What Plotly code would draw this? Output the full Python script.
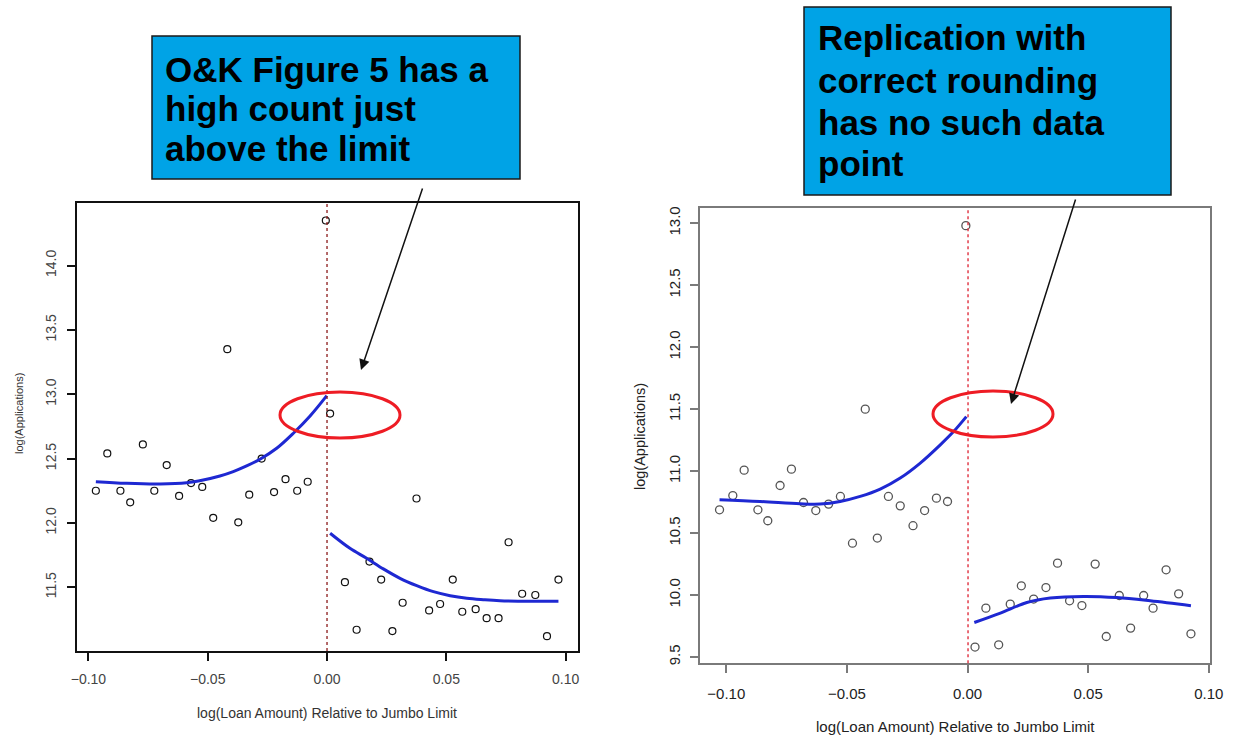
import plotly.graph_objects as go

W, H = 1235, 738

# ---------------- data ----------------
left_x = [-0.0969, -0.0921, -0.0866, -0.0825, -0.0772, -0.0724, -0.0672, -0.0620, -0.0570, -0.0523,
          -0.0477, -0.0418, -0.0372, -0.0326, -0.0274, -0.0222, -0.0174, -0.0125, -0.0081, -0.0005,
          0.0013, 0.0075, 0.0124, 0.0178, 0.0227, 0.0274, 0.0317, 0.0375, 0.0428, 0.0474,
          0.0527, 0.0567, 0.0623, 0.0669, 0.0719, 0.0761, 0.0818, 0.0873, 0.0922, 0.0970]
left_y = [12.25, 12.54, 12.25, 12.16, 12.61, 12.25, 12.45, 12.21, 12.31, 12.28,
          12.04, 13.35, 12.005, 12.22, 12.50, 12.24, 12.34, 12.25, 12.32, 14.35,
          12.85, 11.54, 11.17, 11.70, 11.56, 11.16, 11.38, 12.19, 11.32, 11.37,
          11.56, 11.31, 11.33, 11.26, 11.26, 11.85, 11.45, 11.44, 11.12, 11.56]

left_fit_below_x = [-0.0969, -0.0840, -0.0700, -0.0588, -0.0519, -0.0449, -0.0393, -0.0337,
                    -0.0281, -0.0211, -0.0141, -0.0071, -0.0001]
left_fit_below_y = [12.321, 12.308, 12.303, 12.313, 12.334, 12.365, 12.399, 12.443,
                    12.495, 12.580, 12.697, 12.831, 12.989]
left_fit_above_x = [0.0013, 0.0096, 0.0166, 0.0236, 0.0306, 0.0376, 0.0446, 0.0516,
                    0.0586, 0.0655, 0.0725, 0.0865, 0.0970]
left_fit_above_y = [11.920, 11.803, 11.726, 11.643, 11.570, 11.513, 11.466, 11.435,
                    11.415, 11.404, 11.396, 11.392, 11.392]

right_x = [-0.1028, -0.0973, -0.0926, -0.0869, -0.0828, -0.0777, -0.0730, -0.0680, -0.0629, -0.0576,
           -0.0527, -0.0477, -0.0424, -0.0374, -0.0328, -0.0279, -0.0226, -0.0178, -0.0129, -0.0083,
           -0.0007, 0.0031, 0.0076, 0.0129, 0.0177, 0.0223, 0.0274, 0.0325, 0.0373, 0.0423,
           0.0474, 0.0529, 0.0575, 0.0629, 0.0676, 0.0730, 0.0769, 0.0823, 0.0875, 0.0926]
right_y = [10.688, 10.803, 11.008, 10.688, 10.60, 10.884, 11.016, 10.747, 10.682, 10.734,
           10.796, 10.419, 11.50, 10.46, 10.796, 10.72, 10.56, 10.682, 10.782, 10.755,
           12.98, 9.581, 9.895, 9.599, 9.927, 10.075, 9.968, 10.061, 10.258, 9.954,
           9.916, 10.25, 9.666, 9.997, 9.734, 9.997, 9.895, 10.204, 10.01, 9.688]

right_fit_below_x = [-0.1028, -0.0860, -0.0694, -0.0611, -0.0528, -0.0445, -0.0362, -0.0279,
                     -0.0196, -0.0113, -0.0058, -0.0005]
right_fit_below_y = [10.769, 10.755, 10.736, 10.734, 10.755, 10.796, 10.855, 10.944,
                     11.065, 11.212, 11.319, 11.440]
right_fit_above_x = [0.0028, 0.0136, 0.0246, 0.0343, 0.0481, 0.0619, 0.0757, 0.0926]
right_fit_above_y = [9.779, 9.855, 9.940, 9.976, 9.989, 9.980, 9.954, 9.914]

x_ticks = [-0.10, -0.05, 0.00, 0.05, 0.10]
x_tick_text = ["\u22120.10", "\u22120.05", "0.00", "0.05", "0.10"]
left_y_ticks = [11.5, 12.0, 12.5, 13.0, 13.5, 14.0]
right_y_ticks = [9.5, 10.0, 10.5, 11.0, 11.5, 12.0, 12.5, 13.0]

x_title = "log(Loan Amount) Relative to Jumbo Limit"
y_title = "log(Applications)"
left_box_lines = ["O&K Figure 5 has a", "high count just", "above the limit"]
right_box_lines = ["Replication with", "correct rounding", "has no such data", "point"]


# ---------------- helpers (pixel -> paper) ----------------
def px(x):
    return x / W


def py(y):
    return 1 - y / H


BLUE = "#1e28d2"
FONT = "Liberation Sans, Arial, sans-serif"

fig = go.Figure()

# left panel
fig.add_trace(go.Scatter(x=left_x, y=left_y, mode="markers", xaxis="x", yaxis="y",
                         marker=dict(symbol="circle-open", size=7, color="#111",
                                     line=dict(width=1.2, color="#111")), showlegend=False))
fig.add_trace(go.Scatter(x=left_fit_below_x, y=left_fit_below_y, mode="lines", xaxis="x", yaxis="y",
                         line=dict(color=BLUE, width=3, shape="spline"), showlegend=False))
fig.add_trace(go.Scatter(x=left_fit_above_x, y=left_fit_above_y, mode="lines", xaxis="x", yaxis="y",
                         line=dict(color=BLUE, width=3, shape="spline"), showlegend=False))

# right panel
fig.add_trace(go.Scatter(x=right_x, y=right_y, mode="markers", xaxis="x2", yaxis="y2",
                         marker=dict(symbol="circle-open", size=8, color="#555",
                                     line=dict(width=1.3, color="#555")), showlegend=False))
fig.add_trace(go.Scatter(x=right_fit_below_x, y=right_fit_below_y, mode="lines", xaxis="x2", yaxis="y2",
                         line=dict(color=BLUE, width=3, shape="spline"), showlegend=False))
fig.add_trace(go.Scatter(x=right_fit_above_x, y=right_fit_above_y, mode="lines", xaxis="x2", yaxis="y2",
                         line=dict(color=BLUE, width=3, shape="spline"), showlegend=False))

axis_common = dict(showgrid=False, zeroline=False, showline=True, mirror=True,
                   ticks="outside", ticklen=8, fixedrange=True, automargin=False)

fig.update_layout(
    width=W, height=H,
    margin=dict(l=0, r=0, t=0, b=0, pad=0),
    paper_bgcolor="white", plot_bgcolor="white",
    font=dict(family=FONT),
    xaxis=dict(**axis_common, domain=[px(77), px(578)], range=[-0.1048, 0.1052],
               tickvals=x_ticks, ticktext=x_tick_text, linecolor="#111", linewidth=1.5,
               tickcolor="#111", tickwidth=1.5, anchor="y",
               tickfont=dict(size=14, color="#444", family=FONT), ticklabelstandoff=6),
    yaxis=dict(**axis_common, domain=[py(651), py(203)], range=[11.005, 14.486],
               tickvals=left_y_ticks, ticktext=[f"{v:.1f}" for v in left_y_ticks],
               linecolor="#111", linewidth=1.5, tickcolor="#111", tickwidth=1.5, anchor="x",
               tickangle=-90, tickfont=dict(size=14, color="#444", family=FONT), ticklabelstandoff=6),
    xaxis2=dict(**axis_common, domain=[px(700), px(1210)], range=[-0.1109, 0.1005],
                tickvals=x_ticks, ticktext=x_tick_text, linecolor="#7a7a7a", linewidth=1.5,
                tickcolor="#7a7a7a", tickwidth=1.5, anchor="y2",
                tickfont=dict(size=15, color="#222", family=FONT), ticklabelstandoff=8),
    yaxis2=dict(**axis_common, domain=[py(663.3), py(208.3)], range=[9.45, 13.12],
                tickvals=right_y_ticks, ticktext=[f"{v:.1f}" for v in right_y_ticks],
                linecolor="#7a7a7a", linewidth=1.5, tickcolor="#7a7a7a", tickwidth=1.5, anchor="x2",
                tickangle=-90, tickfont=dict(size=15, color="#222", family=FONT), ticklabelstandoff=4),
)

# vertical reference lines at the jumbo limit
fig.add_shape(type="line", xref="x", yref="y domain", x0=0, x1=0, y0=0, y1=1,
              line=dict(color="#8b1a1a", width=1.3, dash="dot"))
fig.add_shape(type="line", xref="x2", yref="y2 domain", x0=0.0002, x1=0.0002, y0=0, y1=1,
              line=dict(color="#e0303f", width=1.4, dash="3px,3px"))

# red ellipses
fig.add_shape(type="circle", xref="paper", yref="paper",
              x0=px(280), x1=px(400), y0=py(438), y1=py(392),
              line=dict(color="#ee1c24", width=3))
fig.add_shape(type="circle", xref="paper", yref="paper",
              x0=px(933), x1=px(1053), y0=py(437), y1=py(391),
              line=dict(color="#ee1c24", width=3))

# callout boxes
box_fill = "#00a3e6"
fig.add_shape(type="rect", xref="paper", yref="paper",
              x0=px(152), x1=px(520), y0=py(179), y1=py(36),
              fillcolor=box_fill, line=dict(color="#1a1a1a", width=1.5))
fig.add_shape(type="rect", xref="paper", yref="paper",
              x0=px(804), x1=px(1171), y0=py(195), y1=py(7),
              fillcolor=box_fill, line=dict(color="#1a1a1a", width=1.5))

for line, yc in zip(left_box_lines, [70, 109, 148]):
    fig.add_annotation(x=px(163), y=py(yc), xref="paper", yref="paper", text=f"<b>{line}</b>",
                       showarrow=False, xanchor="left", yanchor="middle",
                       font=dict(size=35, color="black", family=FONT))
for line, yc in zip(right_box_lines, [38, 80, 122, 163]):
    fig.add_annotation(x=px(816), y=py(yc), xref="paper", yref="paper", text=f"<b>{line}</b>",
                       showarrow=False, xanchor="left", yanchor="middle",
                       font=dict(size=35, color="black", family=FONT))

# arrows
fig.add_annotation(x=px(361), y=py(370), xref="paper", yref="paper", text="",
                   showarrow=True, ax=62, ay=-183, arrowhead=2, arrowsize=1.4,
                   arrowwidth=1.5, arrowcolor="#111", standoff=0)
fig.add_annotation(x=px(1011), y=py(404), xref="paper", yref="paper", text="",
                   showarrow=True, ax=65, ay=-206, arrowhead=2, arrowsize=1.4,
                   arrowwidth=1.5, arrowcolor="#111", standoff=0)

# axis titles
fig.add_annotation(x=px(327), y=py(713), xref="paper", yref="paper", text=x_title,
                   showarrow=False, xanchor="center", yanchor="middle",
                   font=dict(size=14, color="#333", family=FONT))
fig.add_annotation(x=px(955), y=py(726), xref="paper", yref="paper", text=x_title,
                   showarrow=False, xanchor="center", yanchor="middle",
                   font=dict(size=15, color="#222", family=FONT))
fig.add_annotation(x=px(19), y=py(414), xref="paper", yref="paper", text=y_title,
                   showarrow=False, xanchor="center", yanchor="middle", textangle=-90,
                   font=dict(size=11, color="#333", family=FONT))
fig.add_annotation(x=px(640), y=py(437), xref="paper", yref="paper", text=y_title,
                   showarrow=False, xanchor="center", yanchor="middle", textangle=-90,
                   font=dict(size=14.5, color="#222", family=FONT))

fig.write_html(
    "out.html",
    config={"displayModeBar": False},
    post_script="document.body.style.margin='0';document.body.style.overflow='hidden';",
)
